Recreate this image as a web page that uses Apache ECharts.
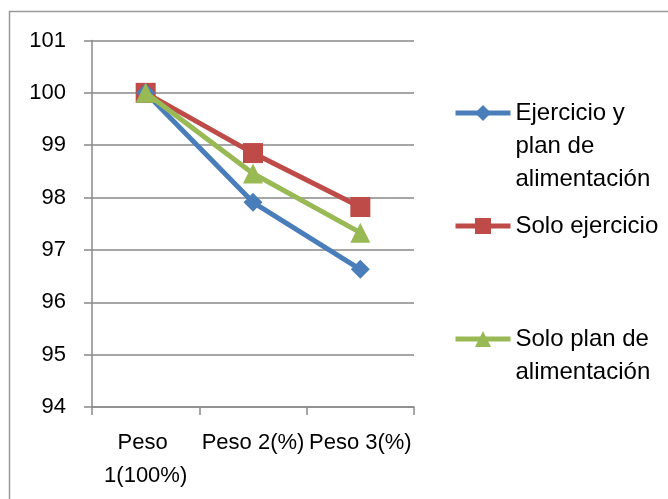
<!DOCTYPE html>
<html>
<head>
<meta charset="utf-8">
<script src="https://cdn.jsdelivr.net/npm/echarts@6/dist/echarts.min.js"></script>
<style>
html,body{margin:0;padding:0;background:#fff;}
#chart{width:668px;height:499px;}
</style>
</head>
<body>
<div id="chart"></div>
<script>
var categories = ['Peso 1(100%)', 'Peso 2(%)', 'Peso 3(%)'];
var seriesNames = ['Ejercicio y plan de alimentación', 'Solo ejercicio', 'Solo plan de alimentación'];
var ejercicioYPlan = [100, 97.91, 96.63];
var soloEjercicio = [100, 98.85, 97.82];
var soloPlan = [100, 98.46, 97.33];
var yTicks = [94, 95, 96, 97, 98, 99, 100, 101];

var FONT = '"Liberation Sans", Arial, sans-serif';
var colors = ['#4A7EBB', '#BE4B48', '#98B954'];
var legendText = {};
legendText[seriesNames[0]] = '\n\nEjercicio y\nplan de\nalimentación';
legendText[seriesNames[1]] = 'Solo ejercicio';
legendText[seriesNames[2]] = '\nSolo plan de\nalimentación';

var chart = echarts.init(document.getElementById('chart'), null, {renderer: 'canvas'});

function mkLegend(name, top) {
  return {
    data: [name],
    left: 453,
    top: top,
    orient: 'vertical',
    itemWidth: 55,
    itemHeight: 20,
    itemGap: 0,
    padding: 0,
    selectedMode: false,
    lineStyle: {width: 5},
    formatter: function (n) { return legendText[n]; },
    textStyle: {fontFamily: FONT, fontSize: 24, color: '#000', lineHeight: 33}
  };
}

var option = {
  animation: false,
  backgroundColor: '#fff',
  color: colors,
  graphic: [{
    type: 'rect',
    shape: {x: 9.5, y: 11.5, width: 800, height: 800},
    style: {fill: 'none', stroke: '#9a9a9a', lineWidth: 1.5},
    silent: true,
    z: -10
  }],
  legend: [
    mkLegend(seriesNames[0], 113 - 82.5),
    mkLegend(seriesNames[1], 226 - 16.5),
    mkLegend(seriesNames[2], 339 - 49.5)
  ],
  grid: {left: 92, right: 254, top: 40.5, bottom: 92, containLabel: false},
  xAxis: {
    type: 'category',
    data: categories,
    boundaryGap: true,
    axisLine: {lineStyle: {color: '#898989', width: 1.5}},
    axisTick: {show: true, length: 8, inside: false, alignWithLabel: false, lineStyle: {color: '#898989', width: 1.5}},
    axisLabel: {
      fontFamily: FONT, fontSize: 22, color: '#000', lineHeight: 33, margin: 19,
      interval: 0, width: 108, overflow: 'break', align: 'center'
    },
    splitLine: {show: false}
  },
  yAxis: {
    type: 'value',
    min: yTicks[0],
    max: yTicks[yTicks.length - 1],
    interval: 1,
    axisLine: {show: true, lineStyle: {color: '#898989', width: 1.5}},
    axisTick: {show: true, length: 8, lineStyle: {color: '#898989', width: 1.5}},
    axisLabel: {fontFamily: FONT, fontSize: 22, color: '#000', margin: 26},
    splitLine: {show: true, lineStyle: {color: '#898989', width: 1.5}}
  },
  series: [
    {
      name: seriesNames[0], type: 'line', data: ejercicioYPlan,
      symbol: 'diamond', symbolSize: 19, z: 3,
      lineStyle: {width: 5, color: colors[0]},
      itemStyle: {color: colors[0]}
    },
    {
      name: seriesNames[1], type: 'line', data: soloEjercicio,
      symbol: 'rect', symbolSize: 20, z: 2,
      lineStyle: {width: 5, color: colors[1]},
      itemStyle: {color: colors[1]}
    },
    {
      name: seriesNames[2], type: 'line', data: soloPlan,
      symbol: 'triangle', symbolSize: 20, z: 4,
      lineStyle: {width: 5, color: colors[2]},
      itemStyle: {color: colors[2]}
    }
  ]
};
chart.setOption(option);
</script>
</body>
</html>
